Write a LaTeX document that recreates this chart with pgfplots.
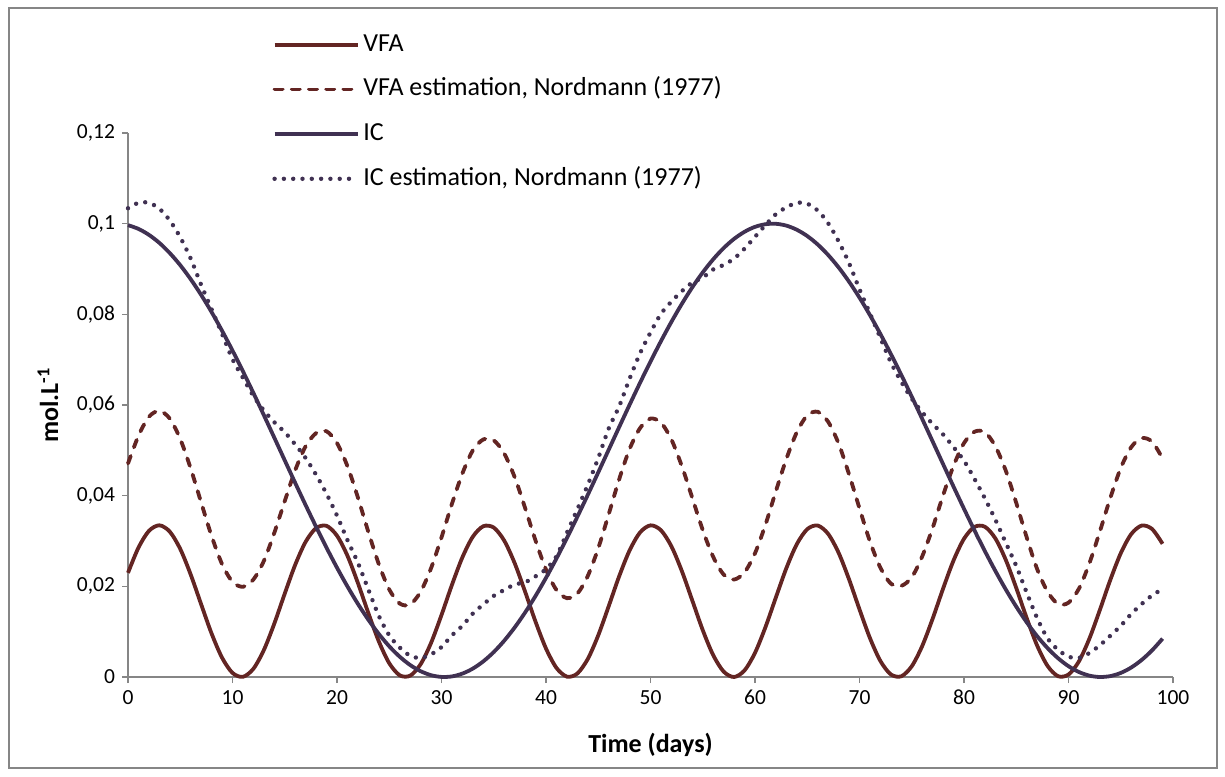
\documentclass[border=0pt]{standalone}
\usepackage{fontspec}
\setmainfont{Carlito}
\usepackage{pgfplots}
\pgfplotsset{compat=1.18}
\usepackage{pgfplotstable}

\definecolor{vfacol}{RGB}{99,37,35}
\definecolor{iccol}{RGB}{64,49,82}
\definecolor{axisgray}{RGB}{134,134,134}

% Daily values (mol/L): VFA, VFA estimate, IC, IC estimate
\pgfplotstableread{
t vfa vfaest ic icest
0 0.02298 0.0471 0.09967 0.1034
1 0.02853 0.0532 0.09885 0.1046
2 0.03222 0.0574 0.09754 0.1046
3 0.03346 0.0587 0.09576 0.1033
4 0.03206 0.0570 0.09351 0.1007
5 0.02824 0.0525 0.09084 0.0970
6 0.02260 0.0460 0.08775 0.0923
7 0.01604 0.0385 0.08429 0.0865
8 0.00958 0.0311 0.08049 0.0811
9 0.00426 0.0249 0.07638 0.0757
10 0.00090 0.0210 0.07201 0.0701
11 0.00004 0.0199 0.06742 0.0660
12 0.00182 0.0215 0.06265 0.0620
13 0.00595 0.0256 0.05776 0.0588
14 0.01178 0.0318 0.05279 0.0562
15 0.01840 0.0388 0.04779 0.0540
16 0.02475 0.0456 0.04281 0.0513
17 0.02983 0.0509 0.03791 0.0483
18 0.03285 0.0538 0.03313 0.0446
19 0.03334 0.0542 0.02851 0.0404
20 0.03117 0.0516 0.02411 0.0356
21 0.02675 0.0465 0.01997 0.0302
22 0.02074 0.0396 0.01613 0.0252
23 0.01410 0.0320 0.01263 0.0193
24 0.00787 0.0249 0.00950 0.0135
25 0.00304 0.0193 0.00677 0.0092
26 0.00038 0.0162 0.00448 0.0065
27 0.00029 0.0160 0.00264 0.0047
28 0.00281 0.0188 0.00128 0.0042
29 0.00752 0.0240 0.00040 0.0050
30 0.01368 0.0308 0.00002 0.0066
31 0.02033 0.0382 0.00013 0.0092
32 0.02640 0.0449 0.00075 0.0113
33 0.03096 0.0500 0.00186 0.0140
34 0.03326 0.0524 0.00345 0.0160
35 0.03296 0.0522 0.00550 0.0179
36 0.03009 0.0493 0.00800 0.0192
37 0.02512 0.0441 0.01092 0.0204
38 0.01882 0.0373 0.01422 0.0209
39 0.01219 0.0301 0.01789 0.0222
40 0.00628 0.0237 0.02188 0.0238
41 0.00201 0.0192 0.02614 0.0266
42 0.00008 0.0174 0.03065 0.0318
43 0.00077 0.0184 0.03535 0.0370
44 0.00398 0.0223 0.04019 0.0424
45 0.00920 0.0284 0.04514 0.0483
46 0.01562 0.0359 0.05013 0.0548
47 0.02221 0.0436 0.05512 0.0597
48 0.02793 0.0503 0.06006 0.0658
49 0.03189 0.0549 0.06490 0.0714
50 0.03345 0.0570 0.06959 0.0760
51 0.03237 0.0561 0.07408 0.0801
52 0.02883 0.0524 0.07834 0.0828
53 0.02337 0.0465 0.08231 0.0851
54 0.01687 0.0395 0.08596 0.0870
55 0.01034 0.0324 0.08925 0.0881
56 0.00482 0.0265 0.09214 0.0899
57 0.00119 0.0226 0.09462 0.0909
58 0.00000 0.0215 0.09665 0.0923
59 0.00146 0.0231 0.09821 0.0945
60 0.00533 0.0273 0.09930 0.0971
61 0.01100 0.0336 0.09988 0.0997
62 0.01757 0.0410 0.09997 0.1021
63 0.02401 0.0481 0.09957 0.1036
64 0.02930 0.0540 0.09866 0.1046
65 0.03261 0.0577 0.09727 0.1044
66 0.03341 0.0585 0.09541 0.1029
67 0.03157 0.0563 0.09309 0.1001
68 0.02740 0.0515 0.09035 0.0961
69 0.02153 0.0447 0.08720 0.0913
70 0.01491 0.0372 0.08368 0.0855
71 0.00858 0.0299 0.07982 0.0802
72 0.00353 0.0241 0.07566 0.0748
73 0.00057 0.0206 0.07125 0.0694
74 0.00016 0.0201 0.06663 0.0651
75 0.00237 0.0220 0.06184 0.0614
76 0.00683 0.0266 0.05693 0.0584
77 0.01287 0.0329 0.05195 0.0558
78 0.01951 0.0401 0.04695 0.0535
79 0.02572 0.0466 0.04198 0.0507
80 0.03050 0.0516 0.03710 0.0477
81 0.03311 0.0541 0.03234 0.0437
82 0.03314 0.0540 0.02776 0.0394
83 0.03057 0.0509 0.02340 0.0347
84 0.02582 0.0455 0.01930 0.0296
85 0.01963 0.0384 0.01552 0.0245
86 0.01299 0.0308 0.01207 0.0186
87 0.00693 0.0238 0.00900 0.0130
88 0.00243 0.0188 0.00636 0.0085
89 0.00018 0.0161 0.00414 0.0060
90 0.00054 0.0164 0.00238 0.0045
91 0.00346 0.0195 0.00110 0.0042
92 0.00848 0.0251 0.00030 0.0053
93 0.01479 0.0321 0.00000 0.0070
94 0.02142 0.0395 0.00020 0.0091
95 0.02730 0.0461 0.00090 0.0113
96 0.03152 0.0507 0.00209 0.0139
97 0.03340 0.0527 0.00376 0.0161
98 0.03264 0.0519 0.00589 0.0180
99 0.02938 0.0482 0.00846 0.0194
}\datatable

\begin{document}
\begin{tikzpicture}
% chart area with its thin grey frame
\path[use as bounding box] (0pt,0pt) rectangle (612.5pt,388pt);
\draw[axisgray, line width=0.6pt] (4.5pt,4pt) rectangle (608.5pt,384pt);
\begin{axis}[
  at={(64pt,49.5pt)}, anchor=south west,
  scale only axis, width=522.5pt, height=272pt,
  xmin=0, xmax=100, ymin=0, ymax=0.12,
  clip=false,
  axis x line=bottom, axis y line=left,
  axis line style={draw=axisgray, line width=0.6pt, -},
  every outer x axis line/.append style={-},
  every outer y axis line/.append style={-},
  tick align=outside, major tick length=3pt,
  tick style={draw=axisgray, line width=0.6pt},
  xtick={0,10,20,30,40,50,60,70,80,90,100},
  xticklabels={0,10,20,30,40,50,60,70,80,90,100},
  ytick={0,0.02,0.04,0.06,0.08,0.1,0.12},
  yticklabels={{0},{0,02},{0,04},{0,06},{0,08},{0,1},{0,12}},
  ticklabel style={font=\fontsize{10.75pt}{12pt}\selectfont, text=black},
  xlabel={\textbf{Time (days)}},
  ylabel={\textbf{mol.L\textsuperscript{-1}}},
  label style={font=\fontsize{13pt}{15pt}\selectfont},
  xlabel style={at={(axis description cs:0.5,-0.125)}, anchor=center},
  ylabel style={at={(axis description cs:-0.0766,0.5)}, anchor=center},
  legend style={
    at={(axis description cs:0.1378,1.186)}, anchor=north west,
    draw=none, fill=none, inner sep=0pt, row sep=9.85pt, column sep=1.75pt,
    font=\fontsize{13pt}{15pt}\selectfont,
    nodes={inner sep=0pt, text height=9.5pt, text depth=3pt},
  },
  legend cell align=left,
  legend image code/.code={\draw[#1] (0pt,0pt) -- (41.5pt,0pt);},
]
\addplot[vfacol, line width=1.9pt, smooth] table[x=t, y=vfa] {\datatable};
\addlegendentry{VFA}
\addplot[vfacol, line width=1.9pt, smooth, line cap=round, dash pattern=on 4pt off 4.6pt] table[x=t, y=vfaest] {\datatable};
\addlegendentry{VFA estimation, Nordmann (1977)}
\addplot[iccol, line width=1.9pt, smooth] table[x=t, y=ic] {\datatable};
\addlegendentry{IC}
\addplot[iccol, line width=2.2pt, smooth, line cap=round, dash pattern=on 0pt off 4.65pt] table[x=t, y=icest] {\datatable};
\addlegendentry{IC estimation, Nordmann (1977)}
\end{axis}
\end{tikzpicture}
\end{document}
